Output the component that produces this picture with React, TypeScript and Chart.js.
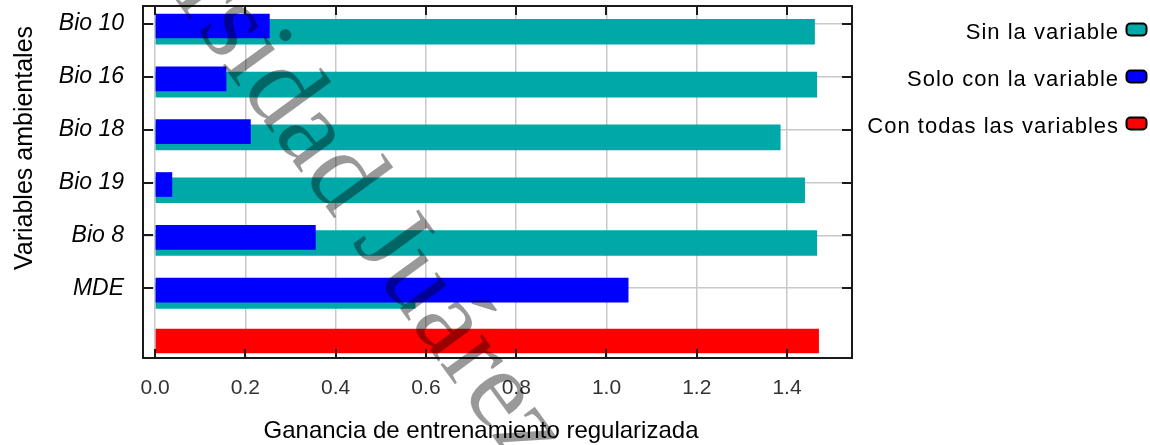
import React, { useEffect, useRef } from 'react';
import { Chart, registerables } from 'chart.js';

Chart.register(...registerables);

// ---- data ----
const categories = ['Bio 10', 'Bio 16', 'Bio 18', 'Bio 19', 'Bio 8', 'MDE'];
const sinLaVariable = [1.461, 1.466, 1.385, 1.439, 1.466, 0.576];
const soloConLaVariable = [0.253, 0.157, 0.211, 0.037, 0.355, 1.048];
const conTodasLasVariables = [1.47];
const xTickValues = [0, 0.2, 0.4, 0.6, 0.8, 1.0, 1.2, 1.4];
const legendLabels = ['Sin la variable', 'Solo con la variable', 'Con todas las variables'];
const xAxisTitle = 'Ganancia de entrenamiento regularizada';
const yAxisTitle = 'Variables ambientales';
const watermarkText = 'Universidad Juárez del Estado de Durango';

const TEAL = 'rgb(0,168,168)';
const BLUE = 'rgb(0,0,255)';
const RED = 'rgb(255,0,0)';
const legendColors = [TEAL, BLUE, RED];
const SANS = '"Liberation Sans", Arial, sans-serif';

// vertical ranges of the index axes (the hidden ones shift each series a few pixels)
const Y_RANGE = { min: -0.341, max: 6.322 };
const TEAL_SHIFT = 0.146;
const BLUE_SHIFT = 0.038;

const framePlugin = {
  id: 'frame',
  afterDatasetsDraw(chart: any) {
    const { ctx, chartArea: a, scales } = chart;
    ctx.save();
    ctx.strokeStyle = '#1a1a1a';
    ctx.lineWidth = 2;
    ctx.strokeRect(a.left, a.top, a.right - a.left, a.bottom - a.top);
    const line = (x1: number, y1: number, x2: number, y2: number) => {
      ctx.beginPath();
      ctx.moveTo(x1, y1);
      ctx.lineTo(x2, y2);
      ctx.stroke();
    };
    scales.x.ticks.forEach((t: any) => {
      const px = Math.round(scales.x.getPixelForValue(t.value));
      line(px, a.bottom, px, a.bottom - 9);
      line(px, a.top, px, a.top + 9);
    });
    scales.y.ticks.forEach((t: any) => {
      const py = Math.round(scales.y.getPixelForValue(t.value));
      line(a.left, py, a.left + 10, py);
      line(a.right, py, a.right - 10, py);
    });
    ctx.restore();
  },
  afterDraw(chart: any) {
    const { ctx } = chart;
    ctx.save();
    // axis titles
    ctx.fillStyle = '#000';
    ctx.font = `24px ${SANS}`;
    ctx.textAlign = 'center';
    ctx.textBaseline = 'alphabetic';
    ctx.fillText(xAxisTitle, 481, 438);
    ctx.save();
    ctx.font = `25px ${SANS}`;
    ctx.translate(32, 148);
    ctx.rotate(-Math.PI / 2);
    ctx.fillText(yAxisTitle, 0, 0);
    ctx.restore();

    // legend
    ctx.save();
    ctx.font = `22px ${SANS}`;
    (ctx as any).letterSpacing = '1px';
    ctx.textAlign = 'right';
    legendLabels.forEach((label, i) => {
      const base = 39 + i * 47;
      ctx.fillStyle = '#000';
      ctx.fillText(label, 1119, base);
      ctx.beginPath();
      ctx.roundRect(1126.5, base - 15.5, 20, 12, 4);
      ctx.fillStyle = legendColors[i];
      ctx.fill();
      ctx.lineWidth = 2;
      ctx.strokeStyle = '#000';
      ctx.stroke();
    });
    ctx.restore();

    // watermark
    ctx.save();
    ctx.font = `112px "Liberation Serif", "Times New Roman", serif`;
    ctx.fillStyle = 'rgba(0,0,0,0.4)';
    ctx.textAlign = 'left';
    const prefix = 'Univer';
    const theta = (54 * Math.PI) / 180;
    const pw = ctx.measureText(prefix).width;
    const sx = 196 - pw * Math.cos(theta);
    const sy = 28 - pw * Math.sin(theta);
    ctx.translate(sx, sy);
    ctx.rotate(theta);
    ctx.fillText(watermarkText, 0, 0);
    ctx.restore();

    ctx.restore();
  },
};

const lockRange = (min: number, max: number) => (s: any) => {
  s.min = min;
  s.max = max;
};

const hiddenIndexAxis = (shift: number) => ({
  type: 'linear',
  display: false,
  reverse: true,
  offset: false,
  bounds: 'data',
  grid: { offset: false },
  min: Y_RANGE.min - shift,
  max: Y_RANGE.max - shift,
  afterBuildTicks: lockRange(Y_RANGE.min - shift, Y_RANGE.max - shift),
});

export default function App() {
  const ref = useRef<HTMLCanvasElement | null>(null);

  useEffect(() => {
    document.body.style.margin = '0';
    const canvas = ref.current;
    if (!canvas) return;
    const rows = categories.length;
    const chart = new Chart(canvas, {
      type: 'bar',
      data: {
        datasets: [
          {
            label: legendLabels[1],
            data: soloConLaVariable.map((v, i) => ({ x: v, y: i })),
            backgroundColor: BLUE,
            yAxisID: 'yBlue',
            barThickness: 24,
            grouped: false,
          },
          {
            label: legendLabels[0],
            data: sinLaVariable.map((v, i) => ({ x: v, y: i })),
            backgroundColor: TEAL,
            yAxisID: 'yTeal',
            barThickness: 25,
            grouped: false,
          },
          {
            label: legendLabels[2],
            data: conTodasLasVariables.map((v) => ({ x: v, y: rows })),
            backgroundColor: RED,
            yAxisID: 'y',
            barThickness: 24,
            grouped: false,
          },
        ],
      } as any,
      options: {
        indexAxis: 'y',
        animation: false,
        responsive: false,
        devicePixelRatio: 1,
        layout: { autoPadding: false, padding: { left: 0, right: 298, top: 6, bottom: 0 } },
        plugins: { legend: { display: false }, tooltip: { enabled: false } },
        scales: {
          x: {
            type: 'linear',
            min: -0.027,
            max: 1.544,
            bounds: 'data',
            afterBuildTicks: (s: any) => {
              s.min = -0.027;
              s.max = 1.544;
              s.ticks = xTickValues.map((v) => ({ value: v }));
            },
            afterFit: (s: any) => {
              s.height = 87;
              s.paddingLeft = 0;
              s.paddingRight = 0;
            },
            ticks: {
              callback: (v: any) => Number(v).toFixed(1),
              font: { family: SANS, size: 21 },
              color: '#333',
              padding: 18,
              maxRotation: 0,
              autoSkip: false,
            },
            grid: { color: '#c8c8c8', lineWidth: 1.5, drawTicks: false },
            border: { display: false },
          },
          y: {
            type: 'linear',
            reverse: true,
            offset: false,
            bounds: 'data',
            min: Y_RANGE.min,
            max: Y_RANGE.max,
            afterBuildTicks: (s: any) => {
              s.min = Y_RANGE.min;
              s.max = Y_RANGE.max;
              s.ticks = categories.map((_, i) => ({ value: i }));
            },
            afterFit: (s: any) => {
              s.width = 143;
              s.paddingTop = 0;
              s.paddingBottom = 0;
            },
            ticks: {
              callback: (v: any) => categories[Number(v)] ?? '',
              font: { family: SANS, size: 23, style: 'italic' },
              color: '#000',
              padding: 19,
              autoSkip: false,
            },
            grid: { color: '#c8c8c8', lineWidth: 1.5, drawTicks: false, offset: false },
            border: { display: false },
          },
          yTeal: hiddenIndexAxis(TEAL_SHIFT),
          yBlue: hiddenIndexAxis(BLUE_SHIFT),
        },
      } as any,
      plugins: [framePlugin],
    });
    return () => chart.destroy();
  }, []);

  return (
    <div style={{ width: 1150, height: 445 }}>
      <canvas ref={ref} width={1150} height={445} style={{ display: 'block' }} />
    </div>
  );
}
